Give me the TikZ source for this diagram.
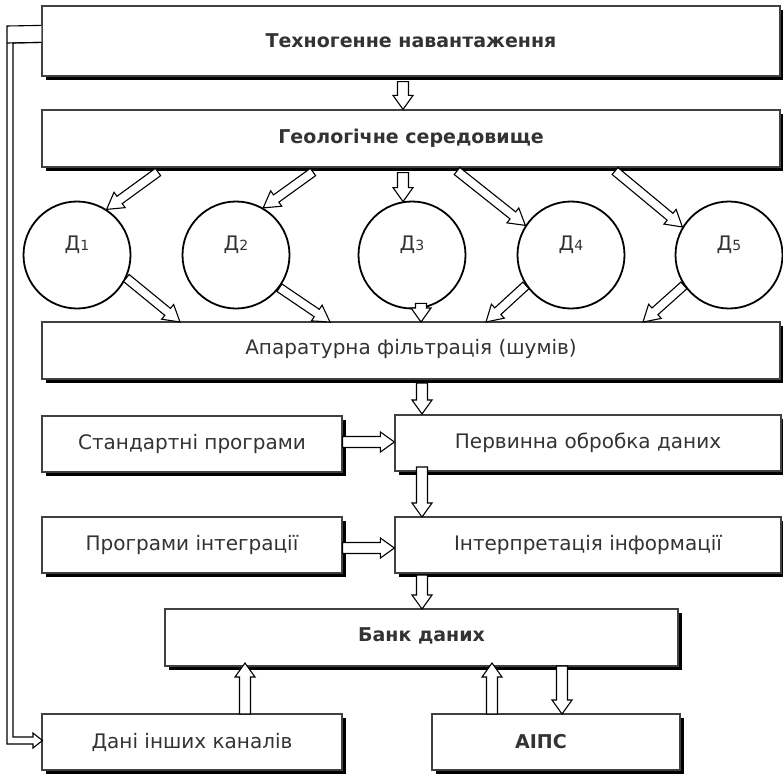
\documentclass[tikz,border=0pt]{standalone}
\usepackage{fontspec}
\setmainfont{DejaVu Sans}
\usetikzlibrary{calc,shadows}
\newcommand\hollowarr[5]{%
  \coordinate (hneck) at ($(#5)!#3!(#4)$);
  \draw[harrow] ($(#4)!#1!90:(#5)$) -- ($(hneck)!#1!90:(#5)$) -- ($(hneck)!#2!90:(#5)$) -- (#5) -- ($(hneck)!#2!-90:(#5)$) -- ($(hneck)!#1!-90:(#5)$) -- ($(#4)!#1!-90:(#5)$) -- cycle;}
\newcommand\mainarr[2]{\hollowarr{5.5pt}{10pt}{14pt}{#1}{#2}}
\newcommand\diagarr[2]{\hollowarr{4.5pt}{9.5pt}{16pt}{#1}{#2}}
\tikzset{
  box/.style={draw=black!75, line width=1.2pt, fill=white,
    drop shadow={shadow xshift=4pt,shadow yshift=-4pt,fill=black,opacity=1},
    inner sep=0pt, font=\fontsize{20}{24}\selectfont, text=black!80},
  bbox/.style={box, font=\bfseries\fontsize{19}{23}\selectfont},
  sensor/.style={circle, draw=black, line width=1.8pt, fill=white, minimum size=107pt, inner sep=0pt},
  dlbl/.style={text=black!80, font=\fontsize{20}{24}\selectfont, yshift=10pt},
  harrow/.style={draw=black, fill=white, line width=1.1pt, line join=miter},
}
\newcommand\dname[1]{Д{\fontsize{14}{16}\selectfont #1}}
\begin{document}
\begin{tikzpicture}[x=1pt,y=-1pt]
\useasboundingbox (0,0) rectangle (783,773);
% boxes
\node[bbox, minimum width=738pt, minimum height=70pt] (tech) at (411,41) {Техногенне навантаження};
\node[bbox, minimum width=738pt, minimum height=57pt] (geo) at (411,138.5) {Геологічне середовище};
\node[sensor, label={[dlbl]center:\dname{1}}] (d1) at (77,255) {};
\node[sensor, label={[dlbl]center:\dname{2}}] (d2) at (236,255) {};
\node[sensor, label={[dlbl]center:\dname{3}}] (d3) at (412,255) {};
\node[sensor, label={[dlbl]center:\dname{4}}] (d4) at (571,255) {};
\node[sensor, label={[dlbl]center:\dname{5}}] (d5) at (729,255) {};
\node[box, minimum width=738pt, minimum height=57pt, text depth=8pt] (filt) at (411,350.5) {Апаратурна фільтрація (шумів)};
\node[box, minimum width=300pt, minimum height=56pt] (std) at (192,444) {Стандартні програми};
\node[box, minimum width=386pt, minimum height=56pt] (perv) at (588,443) {Первинна обробка даних};
\node[box, minimum width=300pt, minimum height=56pt] (prog) at (192,545) {Програми інтеграції};
\node[box, minimum width=386pt, minimum height=56pt] (interp) at (588,545) {Інтерпретація інформації};
\node[bbox, minimum width=513pt, minimum height=57pt, text depth=6pt] (bank) at (421.5,637.5) {Банк даних};
\node[box, minimum width=300pt, minimum height=56pt] (dani) at (192,742) {Дані інших каналів};
\node[bbox, minimum width=248pt, minimum height=56pt, label={[font=\bfseries\fontsize{19}{23}\selectfont, text=black!80, xshift=-15pt]center:АІПС}] (aips) at (556,742) {};
% feedback connector
\coordinate (fbtop) at ($(tech.north west)+(0,20)$);
\coordinate (fbtip) at ($(dani.west)+(1,-1.5)$);
\draw[harrow] (fbtop) -- (7,26) -- (7,744) -- (33,744) -- (33,748) -- (fbtip) -- (33,733) -- (33,737) -- (13,737) -- (13,43) -- ($(fbtop)+(0,17)$);
\draw[harrow] (7,43) -- ($(fbtop)+(0,17)$);
% main flow arrows
\coordinate (a1s) at ($(tech.south)+(-8,5)$);
\coordinate (a1e) at ($(geo.north)+(-8,0)$);
\mainarr{a1s}{a1e}
% into sensors
\coordinate (g1) at (158,172);
\coordinate (g2) at (313,172);
\coordinate (g3) at ($(geo.south)+(-8,5)$);
\coordinate (g3e) at ($(d3.north)+(-9,1)$);
\coordinate (g4) at (457,171);
\coordinate (g5) at (615,171);
\diagarr{g1}{d1.57}
\diagarr{g2}{d2.60}
\mainarr{g3}{g3e}
\diagarr{g4}{d4.147}
\diagarr{g5}{d5.149}
% out of sensors
\coordinate (f1) at (180,322);
\coordinate (f2) at (330,322);
\coordinate (o3s) at ($(d3.south)+(9,-6)$);
\coordinate (f3) at (421,322);
\coordinate (f4) at (486,322);
\coordinate (f5) at (643,322);
\diagarr{d1.-25}{f1}
\diagarr{d2.-37}{f2}
\mainarr{o3s}{f3}
\diagarr{d4.-146}{f4}
\diagarr{d5.-146}{f5}
% processing chain
\coordinate (c1s) at (422,383);
\coordinate (c1e) at (422,414);
\mainarr{c1s}{c1e}
\coordinate (h1s) at ($(std.east)+(0,-2)$);
\coordinate (h1e) at ($(perv.west)+(0,-1)$);
\mainarr{h1s}{h1e}
\coordinate (c2s) at (422,467);
\coordinate (c2e) at (422,517);
\mainarr{c2s}{c2e}
\coordinate (h2s) at ($(prog.east)+(0,3)$);
\coordinate (h2e) at ($(interp.west)+(0,3)$);
\mainarr{h2s}{h2e}
\coordinate (c3s) at (422,575);
\coordinate (c3e) at (422,609);
\mainarr{c3s}{c3e}
% bank connections
\coordinate (b1s) at (245,714);
\coordinate (b1e) at (245,663);
\mainarr{b1s}{b1e}
\coordinate (b2s) at (492,714);
\coordinate (b2e) at (492,663);
\mainarr{b2s}{b2e}
\coordinate (b3s) at (562,666);
\coordinate (b3e) at (562,714);
\mainarr{b3s}{b3e}
\end{tikzpicture}
\end{document}
